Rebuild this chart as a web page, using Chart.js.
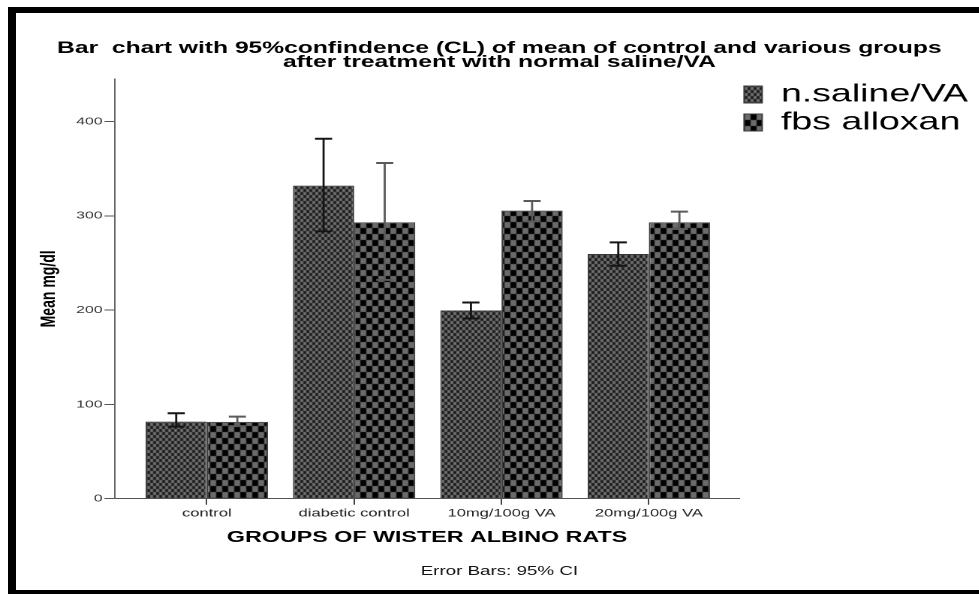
<!DOCTYPE html>
<html>
<head>
<meta charset="utf-8">
<script src="https://cdn.jsdelivr.net/npm/chart.js@4.4.0/dist/chart.umd.min.js"></script>
<style>
    html, body { margin: 0; padding: 0; background: #fff; }
    body { width: 979px; height: 594px; position: relative; overflow: hidden; }
    .frame {
        position: absolute; left: 8px; top: 7px; right: 0; bottom: 0; box-sizing: border-box;
        border-top: 6px solid #000; border-left: 8px solid #000; border-bottom: 4px solid #000;
    }
    /* the source picture is stretched sideways, so the chart is too */
    .wrap { position: absolute; left: 0; top: 0; width: 652.67px; height: 594px; transform: scaleX(1.5); transform-origin: 0 0; }
</style>
</head>
<body>
<div class="frame"></div>
<div class="wrap"><canvas id="chart"></canvas></div>
<script>
const categories = ['control', 'diabetic control', '10mg/100g VA', '20mg/100g VA']
const seriesNames = ['n.saline/VA', 'fbs alloxan']
const salineMeans = [81.7, 332, 199.6, 259.4]
const salineLow = [76.4, 283.5, 191, 247]
const salineHigh = [90.6, 381.7, 208, 271.8]
const alloxanMeans = [81.4, 293, 305.4, 293]
const alloxanLow = [77, 232, 294, 286]
const alloxanHigh = [87, 356, 315.7, 304.4]
const yTicks = [0, 100, 200, 300, 400]

const font = 'Liberation Sans, Arial, sans-serif'

function checker(cw, ch, c1, c2) {
    const c = document.createElement('canvas')
    c.width = cw * 2
    c.height = ch * 2
    const g = c.getContext('2d')
    g.fillStyle = c1
    g.fillRect(0, 0, c.width, c.height)
    g.fillStyle = c2
    g.fillRect(cw, 0, cw, ch)
    g.fillRect(0, ch, cw, ch)
    return g.createPattern(c, 'repeat')
}

const fineCheck = checker(2, 3, '#1c1c1c', '#727272')
const coarseCheck = checker(4, 6, '#000', '#6b6b6b')

// 95% CI whiskers, drawn on top of the bars
const errorBars = {
    id: 'errorBars',
    afterDatasetsDraw(chart) {
        const ctx = chart.ctx
        const y = chart.scales.y
        chart.data.datasets.forEach((ds, i) => {
            chart.getDatasetMeta(i).data.forEach((bar, j) => {
                const top = y.getPixelForValue(ds.ciHigh[j])
                const bottom = y.getPixelForValue(ds.ciLow[j])
                ctx.save()
                ctx.strokeStyle = ds.errorColor
                ctx.lineWidth = 1.4
                ctx.beginPath()
                ctx.moveTo(bar.x, top)
                ctx.lineTo(bar.x, bottom)
                ctx.stroke()
                ctx.lineWidth = 2
                ctx.beginPath()
                ctx.moveTo(bar.x - 5.7, top)
                ctx.lineTo(bar.x + 5.7, top)
                ctx.moveTo(bar.x - 5.7, bottom)
                ctx.lineTo(bar.x + 5.7, bottom)
                ctx.stroke()
                ctx.restore()
            })
        })
    }
}

const ctx = document.getElementById('chart').getContext('2d')

new Chart(ctx, {
    type: 'bar',
    data: {
        datasets: [{
            label: seriesNames[0],
            data: salineMeans.map((v, i) => ({ x: i, y: v })),
            ciLow: salineLow,
            ciHigh: salineHigh,
            errorColor: '#151515',
            backgroundColor: fineCheck,
            borderColor: '#3a3a3a',
            borderWidth: 1
        }, {
            label: seriesNames[1],
            data: alloxanMeans.map((v, i) => ({ x: i, y: v })),
            ciLow: alloxanLow,
            ciHigh: alloxanHigh,
            errorColor: '#5a5a5a',
            backgroundColor: coarseCheck,
            borderColor: '#3a3a3a',
            borderWidth: 1
        }]
    },
    options: {
        responsive: true,
        maintainAspectRatio: false,
        animation: false,
        devicePixelRatio: 2,
        datasets: { bar: { categoryPercentage: 0.83, barPercentage: 1 } },
        layout: { padding: { left: 12.6, right: 0, top: 0, bottom: 0 } },
        plugins: {
            tooltip: { enabled: false },
            title: {
                display: true,
                text: ['Bar  chart with 95%confindence (CL) of mean of control and various groups',
                       'after treatment with normal saline/VA'],
                color: '#000',
                font: { family: font, size: 16.4, weight: 'bold', lineHeight: '14px' },
                padding: { top: 41.5, bottom: 9.5 }
            },
            subtitle: {
                display: true,
                position: 'bottom',
                text: 'Error Bars: 95% CI',
                color: '#111',
                font: { family: font, size: 12.5, weight: 'normal', lineHeight: 1.2 },
                padding: { top: 4, bottom: 15 }
            },
            legend: {
                position: 'right',
                align: 'start',
                fullSize: false,
                maxWidth: 160,
                labels: {
                    color: '#000',
                    font: { family: font, size: 25 },
                    boxWidth: 12,
                    boxHeight: 17,
                    padding: 3
                }
            }
        },
        scales: {
            x: {
                type: 'linear',
                offset: false,
                min: -0.626,
                max: 3.616,
                afterBuildTicks: (scale) => { scale.ticks = categories.map((c, i) => ({ value: i })) },
                afterFit: (scale) => { scale.height = 61.3 },
                grid: { display: true, offset: false, drawOnChartArea: false, drawTicks: true, tickLength: 6, color: '#444' },
                border: { display: true, color: '#555', width: 1 },
                ticks: {
                    callback: (v) => categories[v],
                    autoSkip: false,
                    maxRotation: 0,
                    padding: 2,
                    color: '#222',
                    font: { family: font, size: 11 }
                },
                title: {
                    display: true,
                    text: 'GROUPS OF WISTER ALBINO RATS',
                    color: '#000',
                    font: { family: font, size: 15.5, weight: 'bold', lineHeight: 1.2 },
                    padding: { top: 0, bottom: 13.2 }
                }
            },
            y: {
                min: 0,
                max: 445,
                afterBuildTicks: (scale) => { scale.ticks = yTicks.map(v => ({ value: v })) },
                afterFit: (scale) => { scale.width = 63.7 },
                grid: { display: true, drawOnChartArea: false, drawTicks: true, tickLength: 6.7, color: '#555' },
                border: { display: true, color: '#666', width: 1 },
                ticks: {
                    padding: 1.3,
                    color: '#333',
                    font: { family: font, size: 10.5 }
                },
                title: {
                    display: true,
                    text: 'Mean mg/dl',
                    color: '#000',
                    font: { family: font, size: 14, weight: 'bold', lineHeight: 1.2 },
                    padding: { top: 11.7, bottom: 0 }
                }
            }
        }
    },
    plugins: [errorBars]
})
</script>
</body>
</html>
